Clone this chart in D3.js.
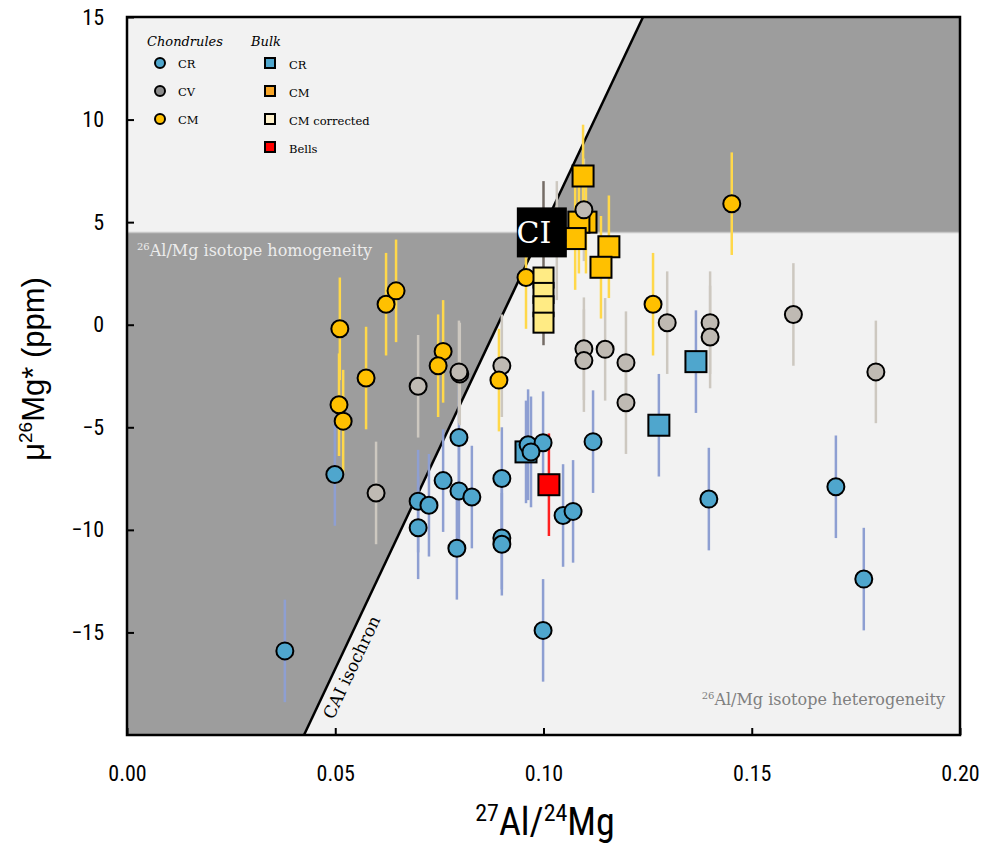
<!DOCTYPE html>
<html>
<head>
<meta charset="utf-8">
<style>
  body { margin: 0; background: #fff; }
  .serif { font-family: "DejaVu Serif", serif; }
  .xaxis text, .yaxis text { font-family: "Roboto Condensed", "Liberation Sans Narrow", sans-serif; font-size: 22px; fill: #000; }
</style>
</head>
<body>
<svg width="986" height="845"></svg>
<script src="https://d3js.org/d3.v7.min.js"></script>
<script>
// each entry: [27Al/24Mg, mu26Mg*, error]
var crChondrules = [
  [0.0379, -15.9, 2.5], [0.0499, -7.3, 2.5], [0.0699, -8.6, 2.5], [0.0725, -8.8, 2.5],
  [0.0699, -9.9, 2.5], [0.0759, -7.6, 2.5], [0.0797, -5.5, 2.5], [0.0797, -8.1, 2.5],
  [0.0828, -8.4, 2.5], [0.0792, -10.9, 2.5], [0.090, -7.5, 2.5], [0.090, -10.4, 2.5],
  [0.090, -10.7, 2.5], [0.0963, -5.85, 2.7], [0.0999, -5.75, 2.5], [0.0970, -6.2, 2.7],
  [0.1047, -9.3, 2.5], [0.1071, -9.1, 2.5], [0.1119, -5.7, 2.5], [0.0999, -14.9, 2.5],
  [0.1397, -8.5, 2.5], [0.1702, -7.9, 2.5], [0.1769, -12.4, 2.5]
];
var cvChondrules = [
  [0.1032, 4.1, 2.9], [0.0598, -8.2, 2.5], [0.0699, -3.0, 2.5], [0.0799, -2.4, 2.5],
  [0.0797, -2.3, 2.5], [0.090, -2.0, 2.5], [0.1097, 5.6, 2.5], [0.1097, -1.17, 2.5],
  [0.1097, -1.75, 2.5], [0.1148, -1.2, 2.5], [0.1198, -1.85, 2.5], [0.1198, -3.8, 2.5],
  [0.1297, 0.1, 2.5], [0.140, 0.1, 2.5], [0.140, -0.6, 2.5], [0.160, 0.5, 2.5],
  [0.1798, -2.3, 2.5]
];
var cmChondrules = [
  [0.0511, -0.2, 2.5], [0.0622, 1.0, 2.5], [0.0646, 1.65, 2.5], [0.0574, -2.6, 2.5],
  [0.0509, -3.9, 2.5], [0.0519, -4.7, 2.5], [0.0759, -1.3, 2.5], [0.0747, -2.0, 2.5],
  [0.0893, -2.7, 2.5], [0.0958, 2.3, 2.5], [0.1263, 1.0, 2.5], [0.1452, 5.9, 2.5]
];
var crBulk = [[0.0958, -6.2, 2.5], [0.1277, -4.9, 2.5], [0.1366, -1.8, 2.5]];
var cmBulk = [
  [0.1095, 7.25, 2.5], [0.1102, 5.0, 2.5], [0.1085, 5.0, 2.5], [0.1076, 4.2, 2.5],
  [0.1157, 3.8, 2.5], [0.1138, 2.8, 2.5]
];
var cmCorrected = [[0.1, 2.3, 2.5], [0.1, 1.55, 2.5], [0.1, 0.9, 2.5], [0.1, 0.1, 2.5]];
var bells = [[0.1013, -7.8, 2.5]];
var ci = [[0.0996, 4.5]];
var ciRange = [-1.0, 7.0];
var isochron = [[0.0425, -20], [0.1239, 15]];
var homogeneityLimit = 4.5;
var xTicks = [0, 0.05, 0.1, 0.15, 0.2];
var yTicks = [15, 10, 5, 0, -5, -10, -15];

var svg = d3.select("svg"),
    ml = 127, mt = 17, w = 833, h = 718;

var x = d3.scaleLinear().domain([0, 0.2]).range([ml, ml + w]);
var y = d3.scaleLinear().domain([-20, 15]).range([mt + h, mt]);

function xIso(v) {
  var a = isochron[0], b = isochron[1];
  return a[0] + (v - a[1]) * (b[0] - a[0]) / (b[1] - a[1]);
}

svg.append("rect").attr("x", ml).attr("y", mt).attr("width", w).attr("height", h)
  .attr("fill", "#f2f2f2");

var line = d3.line().x(function(d) { return x(d[0]); }).y(function(d) { return y(d[1]); });

// shaded areas
svg.append("path")
  .attr("d", line([[xIso(homogeneityLimit), homogeneityLimit], [xIso(15), 15], [0.2, 15], [0.2, homogeneityLimit]]) + "Z")
  .attr("fill", "#9d9d9d");
svg.append("path")
  .attr("d", line([[0, -20], [xIso(-20), -20], [xIso(homogeneityLimit), homogeneityLimit], [0, homogeneityLimit]]) + "Z")
  .attr("fill", "#9d9d9d");
svg.append("line")
  .attr("x1", x(0)).attr("x2", x(0.2)).attr("y1", y(homogeneityLimit)).attr("y2", y(homogeneityLimit))
  .attr("stroke", "#c8c8c8").attr("stroke-width", 1.5);

svg.append("path").attr("d", line(isochron)).attr("stroke", "#000").attr("stroke-width", 2.5).attr("fill", "none");

// annotations
var homo = svg.append("text").attr("class", "serif").attr("x", 137).attr("y", 256)
  .attr("fill", "#ececec").style("font-size", "16px");
homo.append("tspan").attr("font-size", "10px").attr("dy", -6).text("26");
homo.append("tspan").attr("dy", 6).text("Al/Mg isotope homogeneity");

var hetero = svg.append("text").attr("class", "serif").attr("x", 945).attr("y", 705)
  .attr("text-anchor", "end").attr("fill", "#7f7f7f").style("font-size", "16px");
hetero.append("tspan").attr("font-size", "10px").attr("dy", -6).text("26");
hetero.append("tspan").attr("dy", 6).text("Al/Mg isotope heterogeneity");

var ang = Math.atan2(y(isochron[1][1]) - y(isochron[0][1]), x(isochron[1][0]) - x(isochron[0][0])) * 180 / Math.PI;
svg.append("text").attr("class", "serif")
  .attr("transform", "translate(" + x(xIso(-16.4)) + "," + y(-16.4) + ") rotate(" + ang + ")")
  .attr("y", 20).attr("text-anchor", "middle").style("font-size", "17px").text("CAI isochron");

// error bars
function bars(data, color) {
  svg.append("g").selectAll("line").data(data).enter().append("line")
    .attr("x1", function(d) { return x(d[0]); }).attr("x2", function(d) { return x(d[0]); })
    .attr("y1", function(d) { return y(d[1] + d[2]); }).attr("y2", function(d) { return y(d[1] - d[2]); })
    .attr("stroke", color).attr("stroke-width", 2.5);
}
bars(crChondrules, "#8e9fd2");
bars(crBulk, "#8e9fd2");
bars(cvChondrules, "#cdc8c0");
bars(cmChondrules, "#ffd84a");
bars(cmBulk, "#ffd84a");
bars(bells, "#ff2020");
svg.append("line").attr("x1", x(0.1)).attr("x2", x(0.1)).attr("y1", y(ciRange[1])).attr("y2", y(ciRange[0]))
  .attr("stroke", "#756c66").attr("stroke-width", 2.5);

function circles(data, fill) {
  svg.append("g").selectAll("circle").data(data).enter().append("circle")
    .attr("cx", function(d) { return x(d[0]); }).attr("cy", function(d) { return y(d[1]); })
    .attr("r", 8.5).attr("fill", fill).attr("stroke", "#000").attr("stroke-width", 2);
}
function squares(data, fill, s) {
  svg.append("g").selectAll("rect").data(data).enter().append("rect")
    .attr("x", function(d) { return x(d[0]) - s / 2; }).attr("y", function(d) { return y(d[1]) - s / 2; })
    .attr("width", s).attr("height", s).attr("fill", fill).attr("stroke", "#000").attr("stroke-width", 2);
}
squares(crBulk, "#4fa6cd", 21);
squares(cmBulk, "#ffc000", 21);
squares(bells, "#ff0000", 21);
circles(cvChondrules, "#bfbab3");
circles(cmChondrules, "#ffc000");
circles(crChondrules, "#4fa6cd");
squares(cmCorrected, "#ffeb84", 20);

// CI
var ciG = svg.append("g");
ciG.selectAll("rect").data(ci).enter().append("rect")
  .attr("x", function(d) { return x(d[0]) - 25; }).attr("y", function(d) { return y(d[1]) - 25; })
  .attr("width", 50).attr("height", 50).attr("fill", "#000");
ciG.selectAll("text").data(ci).enter().append("text").attr("class", "serif")
  .attr("x", function(d) { return x(d[0]) - 8; }).attr("y", function(d) { return y(d[1]) + 11; })
  .attr("text-anchor", "middle").attr("fill", "#fff").style("font-size", "30px").text("CI");

// frame and axes
svg.append("rect").attr("x", ml).attr("y", mt).attr("width", w).attr("height", h)
  .attr("fill", "none").attr("stroke", "#000").attr("stroke-width", 2.5);

svg.append("g").attr("class", "xaxis").attr("transform", "translate(0," + (mt + h) + ")")
  .call(d3.axisBottom(x).tickValues(xTicks).tickSize(-7).tickPadding(30).tickFormat(d3.format(".2f")))
  .call(function(g) { g.select(".domain").remove(); g.selectAll("line").attr("stroke-width", 2); });

svg.append("g").attr("class", "yaxis").attr("transform", "translate(" + ml + ",0)")
  .call(d3.axisLeft(y).tickValues(yTicks).tickSize(-7).tickPadding(23))
  .call(function(g) { g.select(".domain").remove(); g.selectAll("line").attr("stroke-width", 2); });

var xl = svg.append("text").attr("x", 545).attr("y", 835).attr("text-anchor", "middle")
  .style("font-family", "'Roboto Condensed', sans-serif").style("font-size", "38px");
xl.append("tspan").attr("font-size", "24px").attr("dy", -14).text("27");
xl.append("tspan").attr("dy", 14).text("Al/");
xl.append("tspan").attr("font-size", "24px").attr("dy", -14).text("24");
xl.append("tspan").attr("dy", 14).text("Mg");

var yl = svg.append("text").attr("transform", "translate(44,369) rotate(-90)").attr("text-anchor", "middle")
  .style("font-family", "'Liberation Sans', Arial, sans-serif").style("font-size", "31px");
yl.append("tspan").text("\u03bc");
yl.append("tspan").attr("font-size", "19px").attr("dy", -12).text("26");
yl.append("tspan").attr("dy", 12).text("Mg* (ppm)");

// legend
var lg = svg.append("g").attr("class", "serif");
lg.append("text").attr("x", 147).attr("y", 46).style("font-size", "13px").style("font-style", "italic").text("Chondrules");
lg.append("text").attr("x", 251).attr("y", 46).style("font-size", "13px").style("font-style", "italic").text("Bulk");
var chondLegend = [["CR", "#4fa6cd"], ["CV", "#8c8c8c"], ["CM", "#ffc000"]];
var bulkLegend = [["CR", "#4fa6cd"], ["CM", "#f8a629"], ["CM corrected", "#fff2cc"], ["Bells", "#ff0000"]];
chondLegend.forEach(function(d, i) {
  lg.append("circle").attr("cx", 160).attr("cy", 63 + i * 28).attr("r", 5)
    .attr("fill", d[1]).attr("stroke", "#000").attr("stroke-width", 2);
  lg.append("text").attr("x", 178).attr("y", 68 + i * 28).style("font-size", "11.5px").text(d[0]);
});
bulkLegend.forEach(function(d, i) {
  lg.append("rect").attr("x", 265).attr("y", 58 + i * 28).attr("width", 10).attr("height", 10)
    .attr("fill", d[1]).attr("stroke", "#000").attr("stroke-width", 2);
  lg.append("text").attr("x", 289).attr("y", 69 + i * 28).style("font-size", "11.5px").text(d[0]);
});
</script>
</body>
</html>
